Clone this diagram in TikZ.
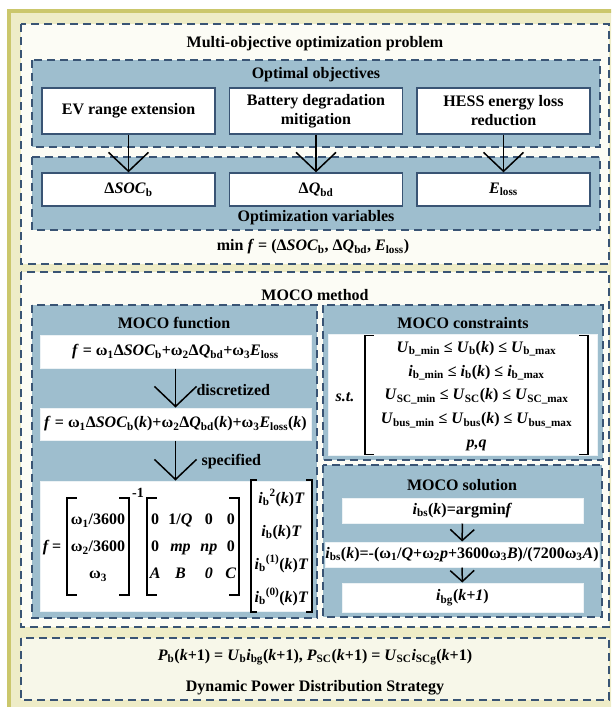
\documentclass[tikz,border=0pt]{standalone}
\usepackage{fontspec}
\setmainfont{Liberation Serif}
\usetikzlibrary{arrows.meta}

\definecolor{frameline}{RGB}{203,199,108}
\definecolor{framefill}{RGB}{238,236,199}
\definecolor{panelfill}{RGB}{252,252,245}
\definecolor{stratfill}{RGB}{247,247,233}
\definecolor{bluefill}{RGB}{158,190,206}
\definecolor{navy}{RGB}{57,84,116}

\newcommand{\subx}[1]{\textsubscript{#1}}
\newcommand{\supx}[1]{\textsuperscript{#1}}
\newcommand{\vi}[1]{\textit{#1}}
% brackets round a node: name, tick length
\newcommand{\mbrk}[2]{%
  \draw[brk] ([xshift=#2]#1.north west) -- (#1.north west) -- (#1.south west) -- ([xshift=#2]#1.south west);
  \draw[brk] ([xshift=-#2]#1.north east) -- (#1.north east) -- (#1.south east) -- ([xshift=-#2]#1.south east);}

\begin{document}
\begin{tikzpicture}[x=1pt, y=-1pt, font=\bfseries\fontsize{16}{19}\selectfont,
  dashbox/.style={draw=navy, line width=1.8pt, dash pattern=on 8pt off 5pt},
  objbox/.style={draw=navy, line width=1.3pt, fill=white, minimum width=173, minimum height=46, align=center, inner sep=0pt},
  varbox/.style={objbox, minimum height=33},
  formbox/.style={draw=white!80!bluefill, line width=1pt, fill=white, minimum width=271, minimum height=33, inner sep=0pt},
  solbox/.style={formbox, minimum width=241, minimum height=25},
  bigarrow/.style={-{Straight Barb[length=19pt, width=40pt]}, line width=1.5pt},
  midarrow/.style={-{Straight Barb[length=20pt, width=42pt]}, line width=1.5pt},
  smallarrow/.style={-{Straight Barb[length=11pt, width=24pt]}, line width=1.5pt},
  brk/.style={line width=1.8pt},
  mat/.style={inner sep=0pt}]

\useasboundingbox (0,0) rectangle (611,707);
\clip (0,0) rectangle (611,707);

% frame and panels
\draw[draw=frameline, line width=3.5pt, fill=framefill] (9,11) rectangle (640,740);
\draw[dashbox, fill=panelfill] (21,24) rectangle (609,264);
\draw[dashbox, fill=panelfill] (21,272) rectangle (609,627);
\draw[dashbox, fill=stratfill] (21,638) rectangle (609,700);

% problem
\node (title) at (315,44) {Multi-objective optimization problem};
\draw[dashbox, fill=bluefill] (32,60) rectangle (600,147);
\draw[dashbox, fill=bluefill] (32,157) rectangle (600,230);
\node (objhead) at (316,75) {Optimal objectives};
\node (varhead) at (316,218) {Optimization variables};

\node[objbox] (ev) at (128.5,111) {EV range extension};
\node[objbox] (bat) at (316,111) {Battery degradation\\mitigation};
\node[objbox] (hess) at (503.5,111) {HESS energy loss\\reduction};
\node[varbox] (soc) at (128.5,189.5) {Δ\vi{SOC}\subx{b}};
\node[varbox] (dq) at (316,189.5) {Δ\vi{Q}\subx{bd}};
\node[varbox] (eloss) at (503.5,189.5) {\vi{E}\subx{loss}};
\draw[bigarrow] (ev) -- (soc);
\draw[bigarrow] (bat) -- (dq);
\draw[bigarrow] (hess) -- (eloss);

\node (minf) at (313,247) {min \vi{f} = (Δ\vi{SOC}\subx{b}, Δ\vi{Q}\subx{bd}, \vi{E}\subx{loss})};

% method
\node (method) at (315,295) {MOCO method};
\draw[dashbox, fill=bluefill] (32,305) rectangle (317,618);
\draw[dashbox, fill=bluefill] (323,305) rectangle (603,460);
\draw[dashbox, fill=bluefill] (323,465) rectangle (602,617);

% function
\node (funhead) at (174,323) {MOCO function};
\node[formbox] (fcont) at (175.5,351.5) {\vi{f} = ω\subx{1}Δ\vi{SOC}\subx{b}+ω\subx{2}Δ\vi{Q}\subx{bd}+ω\subx{3}\vi{E}\subx{loss}};
\node[formbox, minimum height=32] (fdisc) at (175.5,424) {\vi{f} = ω\subx{1}Δ\vi{SOC}\subx{b}(\vi{k})+ω\subx{2}Δ\vi{Q}\subx{bd}(\vi{k})+ω\subx{3}\vi{E}\subx{loss}(\vi{k})};
\node[formbox, minimum height=130] (fspec) at (175.5,546) {};
\draw[midarrow] (fcont) -- node[right, xshift=17pt, yshift=-2pt] {discretized} (fdisc);
\draw[midarrow] (fdisc) -- node[right, xshift=22pt, yshift=-1pt] {specified} (fspec);

\node (feq) at (52,548) {\vi{f}\,=};
\node[mat, minimum width=62, minimum height=97] (wmat) at (98,546.5)
  {\def\arraystretch{1.42}\begin{tabular}{@{}c@{}}ω\subx{1}/3600\\ω\subx{2}/3600\\ω\subx{3}\end{tabular}};
\node[font=\bfseries\fontsize{14}{16}\selectfont] (winv) at (138,493) {-1};
\node[mat, minimum width=92, minimum height=97] (cmat) at (193,546.5)
  {\def\arraystretch{1.42}\setlength{\tabcolsep}{4pt}\begin{tabular}{@{}cccc@{}}0&1/\vi{Q}&0&0\\0&\vi{mp}&\vi{np}&0\\\vi{A}&\vi{B}&\vi{0}&\vi{C}\end{tabular}};
\node[mat, minimum width=61, minimum height=126] (imat) at (281.5,546)
  {\def\arraystretch{1.74}\begin{tabular}{@{}c@{}}\vi{i}\subx{b}\supx{2}(\vi{k})\vi{T}\\\vi{i}\subx{b}(\vi{k})\vi{T}\\\vi{i}\subx{b}\supx{(1)}(\vi{k})\vi{T}\\\vi{i}\subx{b}\supx{(0)}(\vi{k})\vi{T}\end{tabular}};
\mbrk{wmat}{10pt}
\mbrk{cmat}{10pt}
\mbrk{imat}{6pt}

% constraints
\node (conhead) at (463,323) {MOCO constraints};
\draw[draw=white!80!bluefill, line width=1pt, fill=white] (328,334) rectangle (597,455);
\node (st) at (345,397) {\vi{s.t.}};
\node[mat, minimum width=223, minimum height=116] (cons) at (476.5,395)
  {\def\arraystretch{1.25}\begin{tabular}{c}
  \vi{U}\subx{b\_min} ≤ \vi{U}\subx{b}(\vi{k}) ≤ \vi{U}\subx{b\_max}\\
  \vi{i}\subx{b\_min} ≤ \vi{i}\subx{b}(\vi{k}) ≤ \vi{i}\subx{b\_max}\\
  \vi{U}\subx{SC\_min} ≤ \vi{U}\subx{SC}(\vi{k}) ≤ \vi{U}\subx{SC\_max}\\
  \vi{U}\subx{bus\_min} ≤ \vi{U}\subx{bus}(\vi{k}) ≤ \vi{U}\subx{bus\_max}\\
  \vi{p,q}\end{tabular}};
\mbrk{cons}{9pt}

% solution
\node (solhead) at (462,485) {MOCO solution};
\node[solbox] (sargmin) at (462.5,510.5) {\vi{i}\subx{bs}(\vi{k})=argmin\vi{f}};
\node[solbox, minimum width=274] (sexpl) at (462,554.5) {\vi{i}\subx{bs}(\vi{k})=-(ω\subx{1}/\vi{Q}+ω\subx{2}\vi{p}+3600ω\subx{3}\vi{B})/(7200ω\subx{3}\vi{A})};
\node[solbox, minimum height=29] (sgiven) at (462.5,597.5) {\vi{i}\subx{bg}(\vi{k+1})};
\draw[smallarrow] (sargmin) -- (sexpl);
\draw[smallarrow] (sexpl) -- (sgiven);

% strategy
\node (power) at (315,657) {\vi{P}\subx{b}(\vi{k}+1) = \vi{U}\subx{b}\vi{i}\subx{bg}(\vi{k}+1), \vi{P}\subx{SC}(\vi{k}+1) = \vi{U}\subx{SC}\vi{i}\subx{SCg}(\vi{k}+1)};
\node (strategy) at (315,688) {Dynamic Power Distribution Strategy};

\end{tikzpicture}
\end{document}
